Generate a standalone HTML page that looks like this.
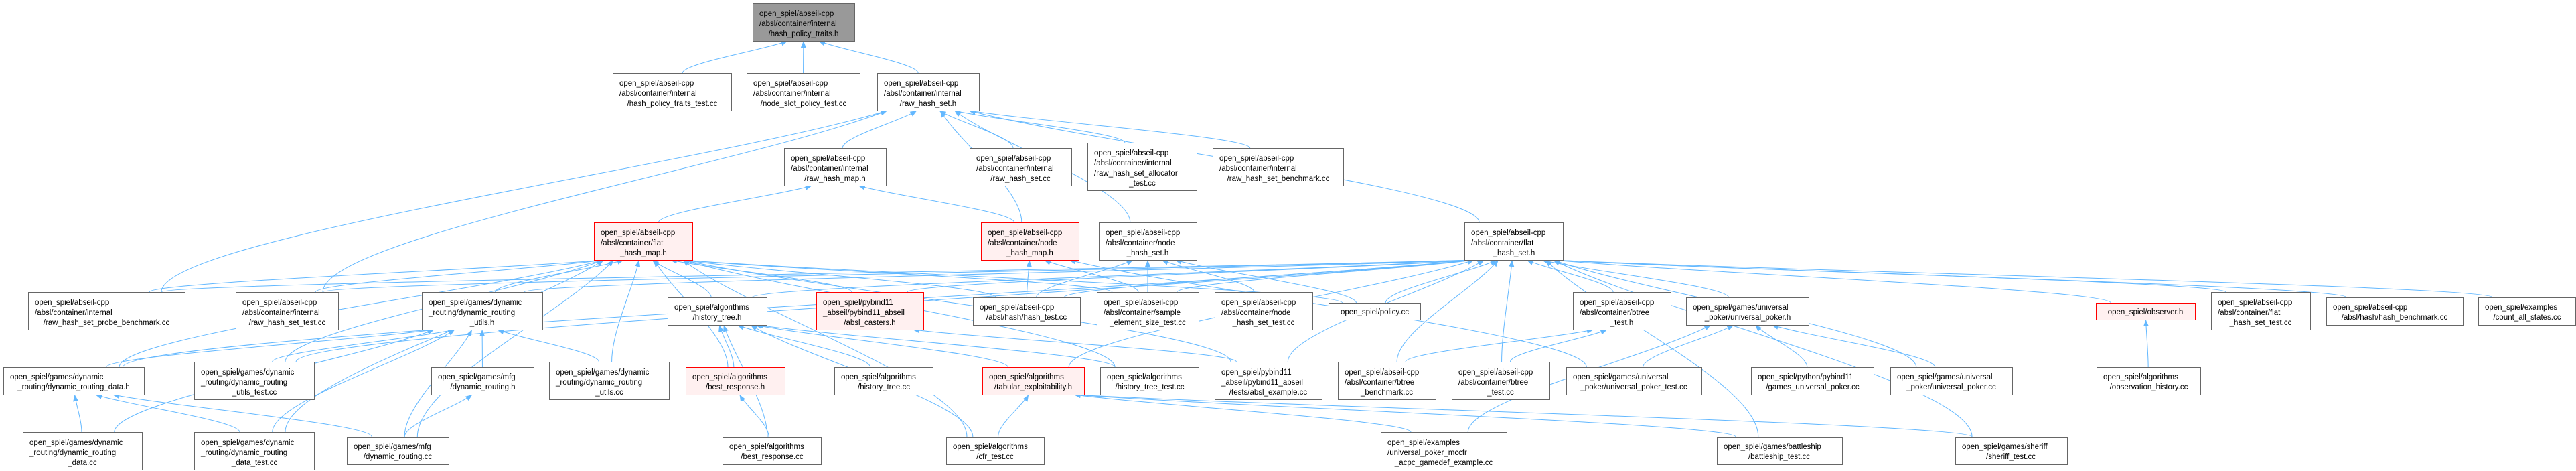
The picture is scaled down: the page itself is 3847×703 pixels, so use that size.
<!DOCTYPE html>
<html><head><meta charset="utf-8"><style>
html,body{margin:0;padding:0;background:#fff;}
svg{display:block;}
text{font-family:"Liberation Sans",Arial,sans-serif;font-size:11.5px;fill:#000;}
rect{fill:#fff;stroke:#666;stroke-width:1;}
rect.r{fill:#fff0f0;stroke:#ff0000;}
rect.g{fill:#999;stroke:#666;}
.m{text-anchor:middle;}
</style></head><body>
<svg id="s" width="3847" height="703" viewBox="0 0 3847 703" xmlns="http://www.w3.org/2000/svg">
<defs><marker id="a" markerUnits="userSpaceOnUse" markerWidth="11" markerHeight="8" refX="10" refY="4" orient="auto"><path d="M0,0 L10,4 L0,8 z" fill="#63b8ff"/></marker></defs>
<g id="edges" fill="none" stroke="#63b8ff" stroke-width="1"></g>
<g id="nodes">
<rect class="g" x="1124.5" y="5.5" width="152" height="56"/><text x="1134" y="24">open_spiel/abseil-cpp</text><text x="1134" y="39">/absl/container/internal</text><text class="m" x="1200" y="54">/hash_policy_traits.h</text>
<rect x="915.5" y="109.5" width="177" height="56"/><text x="925" y="128">open_spiel/abseil-cpp</text><text x="925" y="143">/absl/container/internal</text><text class="m" x="1004" y="158">/hash_policy_traits_test.cc</text>
<rect x="1115.5" y="109.5" width="169" height="56"/><text x="1125" y="128">open_spiel/abseil-cpp</text><text x="1125" y="143">/absl/container/internal</text><text class="m" x="1200" y="158">/node_slot_policy_test.cc</text>
<rect x="1310.5" y="109.5" width="152" height="56"/><text x="1320" y="128">open_spiel/abseil-cpp</text><text x="1320" y="143">/absl/container/internal</text><text class="m" x="1386" y="158">/raw_hash_set.h</text>
<rect x="1171.5" y="221.5" width="152" height="56"/><text x="1181" y="240">open_spiel/abseil-cpp</text><text x="1181" y="255">/absl/container/internal</text><text class="m" x="1247" y="270">/raw_hash_map.h</text>
<rect x="1448.5" y="221.5" width="152" height="56"/><text x="1458" y="240">open_spiel/abseil-cpp</text><text x="1458" y="255">/absl/container/internal</text><text class="m" x="1524" y="270">/raw_hash_set.cc</text>
<rect x="1624.5" y="213.5" width="163" height="71"/><text x="1634" y="232">open_spiel/abseil-cpp</text><text x="1634" y="247">/absl/container/internal</text><text x="1634" y="262">/raw_hash_set_allocator</text><text class="m" x="1706" y="277">_test.cc</text>
<rect x="1811.5" y="221.5" width="195" height="56"/><text x="1821" y="240">open_spiel/abseil-cpp</text><text x="1821" y="255">/absl/container/internal</text><text class="m" x="1909" y="270">/raw_hash_set_benchmark.cc</text>
<rect class="r" x="887.5" y="332.5" width="147" height="56"/><text x="897" y="351">open_spiel/abseil-cpp</text><text x="897" y="366">/absl/container/flat</text><text class="m" x="961" y="381">_hash_map.h</text>
<rect class="r" x="1465.5" y="332.5" width="146" height="56"/><text x="1475" y="351">open_spiel/abseil-cpp</text><text x="1475" y="366">/absl/container/node</text><text class="m" x="1538" y="381">_hash_map.h</text>
<rect x="1641.5" y="332.5" width="146" height="56"/><text x="1651" y="351">open_spiel/abseil-cpp</text><text x="1651" y="366">/absl/container/node</text><text class="m" x="1714" y="381">_hash_set.h</text>
<rect x="2187.5" y="332.5" width="147" height="56"/><text x="2197" y="351">open_spiel/abseil-cpp</text><text x="2197" y="366">/absl/container/flat</text><text class="m" x="2261" y="381">_hash_set.h</text>
<rect x="42.5" y="436.5" width="234" height="56"/><text x="52" y="455">open_spiel/abseil-cpp</text><text x="52" y="470">/absl/container/internal</text><text class="m" x="159" y="485">/raw_hash_set_probe_benchmark.cc</text>
<rect x="352.5" y="436.5" width="153" height="56"/><text x="362" y="455">open_spiel/abseil-cpp</text><text x="362" y="470">/absl/container/internal</text><text class="m" x="429" y="485">/raw_hash_set_test.cc</text>
<rect x="630.5" y="436.5" width="180" height="56"/><text x="640" y="455">open_spiel/games/dynamic</text><text x="640" y="470">_routing/dynamic_routing</text><text class="m" x="720" y="485">_utils.h</text>
<rect x="997.5" y="444.5" width="148" height="41"/><text x="1007" y="462">open_spiel/algorithms</text><text class="m" x="1071" y="477">/history_tree.h</text>
<rect class="r" x="1219.5" y="436.5" width="160" height="56"/><text x="1229" y="455">open_spiel/pybind11</text><text x="1229" y="470">_abseil/pybind11_abseil</text><text class="m" x="1299" y="485">/absl_casters.h</text>
<rect x="1453.5" y="444.5" width="160" height="41"/><text x="1463" y="462">open_spiel/abseil-cpp</text><text class="m" x="1533" y="477">/absl/hash/hash_test.cc</text>
<rect x="1638.5" y="436.5" width="152" height="56"/><text x="1648" y="455">open_spiel/abseil-cpp</text><text x="1648" y="470">/absl/container/sample</text><text class="m" x="1714" y="485">_element_size_test.cc</text>
<rect x="1814.5" y="436.5" width="146" height="56"/><text x="1824" y="455">open_spiel/abseil-cpp</text><text x="1824" y="470">/absl/container/node</text><text class="m" x="1887" y="485">_hash_set_test.cc</text>
<rect x="1984.5" y="452.5" width="137" height="25"/><text class="m" x="2053" y="469">open_spiel/policy.cc</text>
<rect x="2349.5" y="436.5" width="146" height="56"/><text x="2359" y="455">open_spiel/abseil-cpp</text><text x="2359" y="470">/absl/container/btree</text><text class="m" x="2422" y="485">_test.h</text>
<rect x="2518.5" y="444.5" width="183" height="41"/><text x="2528" y="462">open_spiel/games/universal</text><text class="m" x="2610" y="477">_poker/universal_poker.h</text>
<rect class="r" x="3130.5" y="452.5" width="148" height="25"/><text class="m" x="3204" y="469">open_spiel/observer.h</text>
<rect x="3302.5" y="436.5" width="148" height="56"/><text x="3312" y="455">open_spiel/abseil-cpp</text><text x="3312" y="470">/absl/container/flat</text><text class="m" x="3376" y="485">_hash_set_test.cc</text>
<rect x="3474.5" y="444.5" width="204" height="41"/><text x="3484" y="462">open_spiel/abseil-cpp</text><text class="m" x="3576" y="477">/absl/hash/hash_benchmark.cc</text>
<rect x="3701.5" y="444.5" width="145" height="41"/><text x="3711" y="462">open_spiel/examples</text><text class="m" x="3774" y="477">/count_all_states.cc</text>
<rect x="5.5" y="548.5" width="210" height="41"/><text x="15" y="566">open_spiel/games/dynamic</text><text class="m" x="110" y="581">_routing/dynamic_routing_data.h</text>
<rect x="290.5" y="540.5" width="179" height="56"/><text x="300" y="559">open_spiel/games/dynamic</text><text x="300" y="574">_routing/dynamic_routing</text><text class="m" x="380" y="589">_utils_test.cc</text>
<rect x="644.5" y="548.5" width="153" height="41"/><text x="654" y="566">open_spiel/games/mfg</text><text class="m" x="721" y="581">/dynamic_routing.h</text>
<rect x="820.5" y="540.5" width="179" height="56"/><text x="830" y="559">open_spiel/games/dynamic</text><text x="830" y="574">_routing/dynamic_routing</text><text class="m" x="910" y="589">_utils.cc</text>
<rect class="r" x="1024.5" y="548.5" width="148" height="41"/><text x="1034" y="566">open_spiel/algorithms</text><text class="m" x="1098" y="581">/best_response.h</text>
<rect x="1246.5" y="548.5" width="147" height="41"/><text x="1256" y="566">open_spiel/algorithms</text><text class="m" x="1320" y="581">/history_tree.cc</text>
<rect class="r" x="1467.5" y="548.5" width="152" height="41"/><text x="1477" y="566">open_spiel/algorithms</text><text class="m" x="1543" y="581">/tabular_exploitability.h</text>
<rect x="1643.5" y="548.5" width="147" height="41"/><text x="1653" y="566">open_spiel/algorithms</text><text class="m" x="1717" y="581">/history_tree_test.cc</text>
<rect x="1814.5" y="540.5" width="160" height="56"/><text x="1824" y="559">open_spiel/pybind11</text><text x="1824" y="574">_abseil/pybind11_abseil</text><text class="m" x="1894" y="589">/tests/absl_example.cc</text>
<rect x="1998.5" y="540.5" width="146" height="56"/><text x="2008" y="559">open_spiel/abseil-cpp</text><text x="2008" y="574">/absl/container/btree</text><text class="m" x="2071" y="589">_benchmark.cc</text>
<rect x="2168.5" y="540.5" width="146" height="56"/><text x="2178" y="559">open_spiel/abseil-cpp</text><text x="2178" y="574">/absl/container/btree</text><text class="m" x="2241" y="589">_test.cc</text>
<rect x="2339.5" y="548.5" width="202" height="41"/><text x="2349" y="566">open_spiel/games/universal</text><text class="m" x="2440" y="581">_poker/universal_poker_test.cc</text>
<rect x="2615.5" y="548.5" width="183" height="41"/><text x="2625" y="566">open_spiel/python/pybind11</text><text class="m" x="2707" y="581">/games_universal_poker.cc</text>
<rect x="2823.5" y="548.5" width="182" height="41"/><text x="2833" y="566">open_spiel/games/universal</text><text class="m" x="2914" y="581">_poker/universal_poker.cc</text>
<rect x="3131.5" y="548.5" width="155" height="41"/><text x="3141" y="566">open_spiel/algorithms</text><text class="m" x="3209" y="581">/observation_history.cc</text>
<rect x="34.5" y="645.5" width="178" height="56"/><text x="44" y="664">open_spiel/games/dynamic</text><text x="44" y="679">_routing/dynamic_routing</text><text class="m" x="123" y="694">_data.cc</text>
<rect x="290.5" y="645.5" width="179" height="56"/><text x="300" y="664">open_spiel/games/dynamic</text><text x="300" y="679">_routing/dynamic_routing</text><text class="m" x="380" y="694">_data_test.cc</text>
<rect x="518.5" y="652.5" width="152" height="41"/><text x="528" y="670">open_spiel/games/mfg</text><text class="m" x="594" y="685">/dynamic_routing.cc</text>
<rect x="1079.5" y="652.5" width="147" height="41"/><text x="1089" y="670">open_spiel/algorithms</text><text class="m" x="1153" y="685">/best_response.cc</text>
<rect x="1413.5" y="652.5" width="146" height="41"/><text x="1423" y="670">open_spiel/algorithms</text><text class="m" x="1486" y="685">/cfr_test.cc</text>
<rect x="2062.5" y="645.5" width="188" height="56"/><text x="2072" y="664">open_spiel/examples</text><text x="2072" y="679">/universal_poker_mccfr</text><text class="m" x="2156" y="694">_acpc_gamedef_example.cc</text>
<rect x="2564.5" y="652.5" width="187" height="41"/><text x="2574" y="670">open_spiel/games/battleship</text><text class="m" x="2657" y="685">/battleship_test.cc</text>
<rect x="2920.5" y="652.5" width="167" height="41"/><text x="2930" y="670">open_spiel/games/sheriff</text><text class="m" x="3003" y="685">/sheriff_test.cc</text>
</g>
</svg>
<script>
var N={root:[1124,5,152,56],hpt:[915,109,177,56],nsp:[1115,109,169,56],rhs:[1310,109,152,56],rhm:[1171,221,152,56],rhscc:[1448,221,152,56],alloc:[1624,213,163,71],bench:[1811,221,195,56],fhm:[887,332,147,56],nhm:[1465,332,146,56],nhs:[1641,332,146,56],fhs:[2187,332,147,56],probe:[42,436,234,56],rhst:[352,436,153,56],druh:[630,436,180,56],hth:[997,444,148,41],cast:[1219,436,160,56],hasht:[1453,444,160,41],sample:[1638,436,152,56],nhst:[1814,436,146,56],policy:[1984,452,137,25],bth:[2349,436,146,56],uph:[2518,444,183,41],obs:[3130,452,148,25],fhst:[3302,436,148,56],hbench:[3474,444,204,41],count:[3701,444,145,41],drdh:[5,548,210,41],drut:[290,540,179,56],mfgh:[644,548,153,41],drucc:[820,540,179,56],brh:[1024,548,148,41],htcc:[1246,548,147,41],tab:[1467,548,152,41],htt:[1643,548,147,41],abslex:[1814,540,160,56],btb:[1998,540,146,56],btt:[2168,540,146,56],upt:[2339,548,202,41],gup:[2615,548,183,41],upcc:[2823,548,182,41],obsh:[3131,548,155,41],drdcc:[34,645,178,56],drdt:[290,645,179,56],mfgcc:[518,652,152,41],brcc:[1079,652,147,41],cfr:[1413,652,146,41],mccfr:[2062,645,188,56],bship:[2564,652,187,41],sheriff:[2920,652,167,41]};
var E={root:'hpt nsp rhs',rhs:'probe rhst rhm rhscc alloc bench nhm fhs nhs',rhm:'fhm nhm',
fhm:'probe rhst druh drdh drut drucc hth cast brh hasht sample policy abslex drdt mfgcc cfr htt',
nhm:'hasht sample upt',nhs:'hasht sample nhst policy',
fhs:'probe rhst druh drdh drut policy btb btt bth uph obs fhst hbench count upcc bship sheriff hasht sample cast hth tab abslex',
druh:'drdh drut mfgh drucc drdcc drdt mfgcc',drdh:'drdcc drdt mfgcc',mfgh:'mfgcc',
hth:'brh htcc tab htt brcc cfr',brh:'brcc',tab:'cfr mccfr bship sheriff',cast:'abslex',bth:'btb btt',uph:'upt gup upcc mccfr',obs:'obsh'};
var g=document.getElementById('edges'),out='';
for(var p in E){var P=N[p],pcx=P[0]+P[2]/2,pb=P[1]+P[3];
E[p].split(' ').forEach(function(c){var C=N[c],ccx=C[0]+C[2]/2,ct=C[1];
var ex=pcx+Math.max(-P[2]*0.4,Math.min(P[2]*0.4,(ccx-pcx)*0.12));
var sx=ccx+Math.max(-C[2]*0.35,Math.min(C[2]*0.35,(pcx-ccx)*0.08));
var dy=ct-pb;
out+='<path d="M'+sx+','+ct+' C'+sx+','+(ct-dy*0.3)+' '+(ex+(sx-ex)*0.25)+','+(pb+dy*0.3)+' '+ex+','+pb+'" marker-end="url(#a)"/>';});}
g.innerHTML=out;
</script>
</body></html>
